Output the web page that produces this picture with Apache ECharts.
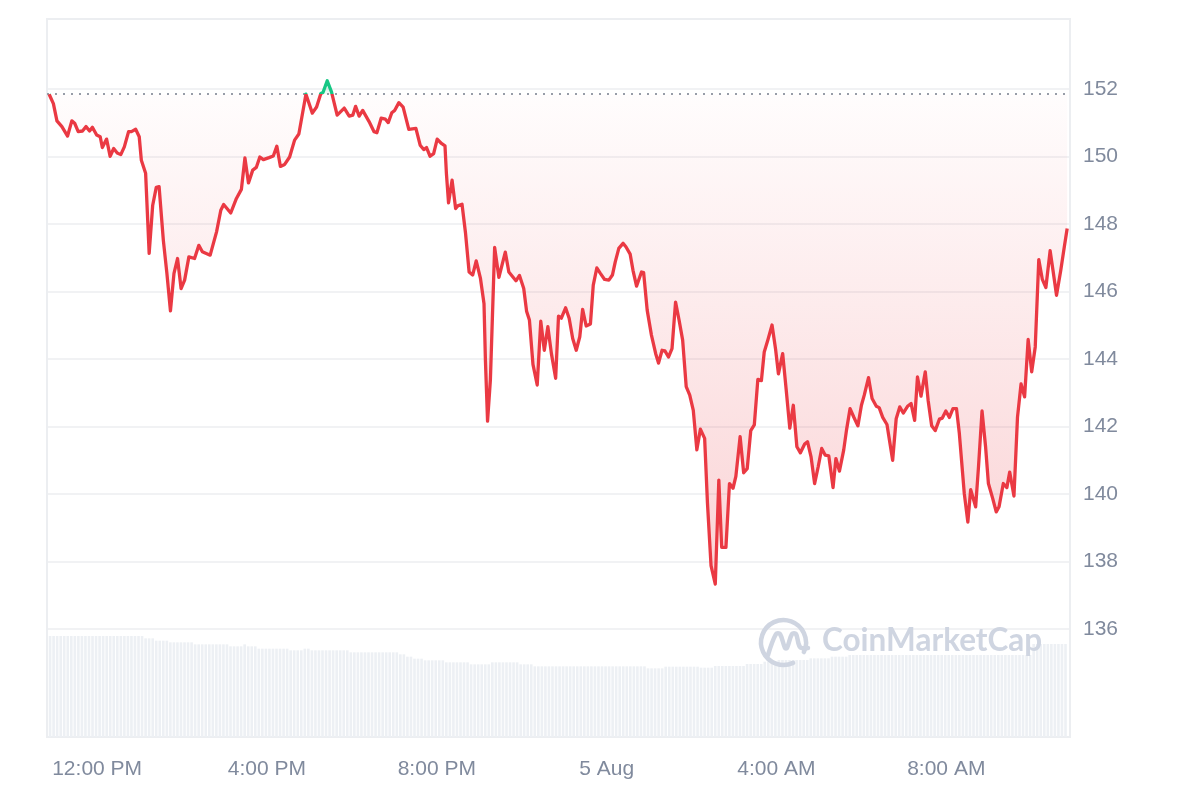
<!DOCTYPE html>
<html>
<head>
<meta charset="utf-8">
<script src="https://cdn.jsdelivr.net/npm/echarts@6/dist/echarts.min.js"></script>
<style>
html,body{margin:0;padding:0;background:#ffffff;}
#chart{width:1200px;height:800px;}
</style>
</head>
<body>
<div id="chart"></div>
<script>
// ---- Data ----
const startTime = new Date(2024, 7, 4, 10, 51).getTime();
const endTime = new Date(2024, 7, 5, 10, 53).getTime();
const openPrice = 151.85;

// minutes after startTime for each price sample
const priceMinutes = [
  3,9,14,21,29,35,39,44,50,55,
  60,64,70,75,78,84,89,94,99,104,
  109,115,119,125,130,133,139,144,149,154,
  158,164,169,174,179,184,189,194,200,208,
  214,219,230,239,245,249,259,267,274,279,
  284,290,295,300,305,313,319,324,329,335,
  342,349,355,365,374,380,386,389,395,401,
  409,419,426,431,435,440,445,454,461,465,
  471,477,481,486,490,496,502,510,520,526,
  531,535,540,545,550,556,561,563,566,571,
  576,579,585,590,595,600,605,611,616,618,
  621,625,631,637,646,651,661,666,672,676,
  680,685,691,696,701,706,711,717,721,725,
  731,736,741,746,751,755,760,766,770,775,
  780,786,792,797,801,806,812,816,822,826,
  831,838,841,846,852,858,862,867,871,876,
  881,886,891,896,901,906,911,916,921,927,
  931,936,942,947,951,957,962,967,971,977,
  982,987,992,997,1002,1007,1011,1016,1022,1027,
  1031,1037,1042,1047,1052,1057,1062,1068,1072,1077,
  1082,1087,1092,1097,1102,1108,1112,1117,1123,1127,
  1132,1137,1143,1148,1152,1158,1163,1169,1173,1178,
  1184,1192,1197,1202,1207,1213,1218,1223,1227,1232,
  1238,1242,1247,1252,1258,1262,1267,1272,1277,1282,
  1286,1293,1298,1302,1309,1313,1318,1323,1327,1333,
  1338,1342,1348,1353,1357,1363,1368,1373,1378,1383,
  1388,1393,1398,1403,1408,1414,1418,1423,1429,1434,
  1438
];

const prices = [
  151.85,151.57,151.06,150.89,150.61,151.06,150.99,150.74,150.76,150.89,
  150.76,150.87,150.64,150.59,150.27,150.52,150.01,150.24,150.11,150.06,
  150.29,150.74,150.74,150.81,150.59,149.89,149.51,147.13,148.56,149.09,
  149.11,147.52,146.54,145.43,146.54,146.98,146.09,146.34,147.03,146.98,
  147.37,147.18,147.08,147.77,148.41,148.58,148.33,148.76,149.03,149.96,
  149.22,149.60,149.68,149.99,149.91,149.97,150.02,150.31,149.71,149.77,
  149.99,150.49,150.67,151.85,151.29,151.47,151.87,151.90,152.25,151.92,
  151.23,151.44,151.20,151.23,151.49,151.20,151.37,151.04,150.74,150.71,
  151.14,151.11,151.01,151.30,151.37,151.60,151.47,150.81,150.84,150.34,
  150.21,150.27,150.01,150.09,150.52,150.39,150.32,149.50,148.63,149.30,
  148.46,148.54,148.59,147.72,146.58,146.49,146.91,146.39,145.64,143.96,
  142.16,143.38,147.31,146.42,147.17,146.58,146.32,146.48,146.09,145.42,
  145.16,143.84,143.23,145.12,144.26,144.96,144.16,143.43,145.27,145.21,
  145.52,145.21,144.61,144.26,144.66,145.47,144.98,145.04,146.19,146.70,
  146.54,146.36,146.34,146.49,146.88,147.28,147.43,147.33,147.11,146.63,
  146.16,146.58,146.56,145.45,144.71,144.16,143.88,144.26,144.24,144.06,
  144.31,145.69,145.15,144.56,143.18,142.93,142.48,141.31,141.92,141.65,
  139.72,137.88,137.33,140.41,138.42,138.42,140.31,140.17,140.52,141.70,
  140.63,140.75,141.88,142.05,143.40,143.36,144.21,144.56,145.01,144.29,
  143.56,144.16,143.08,141.95,142.63,141.40,141.22,141.48,141.55,141.10,
  140.31,140.80,141.35,141.15,141.13,140.19,141.05,140.68,141.30,141.90,
  142.53,142.29,142.02,142.63,142.93,143.45,142.83,142.60,142.56,142.27,
  142.06,141.00,142.23,142.58,142.40,142.60,142.68,142.18,143.47,142.90,
  143.62,142.78,142.02,141.88,142.22,142.25,142.46,142.27,142.53,142.53,
  141.80,140.01,139.17,140.13,139.62,140.80,142.46,141.40,140.31,139.87,
  139.47,139.62,140.31,140.19,140.65,139.94,142.28,143.26,142.88,144.58,
  143.62,144.36,146.95,146.36,146.12,147.21,146.63,145.89,146.63,147.33,
  147.87
];

// 24h volume (billions USD), one bar per 5-minute slot
const volumeStepMinutes = 5;
const volumes = [
  3.03,3.03,3.03,3.03,3.03,3.03,3.03,3.03,3.03,3.03,3.03,3.03,3.03,3.03,3.03,3.03,3.03,3.03,3.03,3.03,3.03,3.03,3.03,3.03,3.03,3.03,3.03,
  2.96,2.96,2.96,
  2.89,2.89,2.89,2.89,
  2.84,2.84,2.84,2.84,2.84,2.84,2.84,
  2.78,2.78,2.78,2.78,2.78,2.78,2.78,2.78,2.78,2.78,
  2.72,2.72,2.72,2.72,
  2.78,
  2.72,2.72,2.72,
  2.65,2.65,2.65,2.65,2.65,2.65,2.65,2.65,2.65,
  2.60,2.60,2.60,2.60,
  2.65,2.65,
  2.60,2.60,2.60,2.60,2.60,2.60,2.60,2.60,2.60,2.60,2.60,
  2.54,2.54,2.54,2.54,2.54,2.54,2.54,2.54,2.54,2.54,2.54,2.54,2.54,2.54,
  2.48,2.48,
  2.41,2.41,
  2.35,2.35,2.35,
  2.30,2.30,2.30,2.30,2.30,2.30,
  2.24,2.24,2.24,2.24,2.24,2.24,2.24,
  2.18,2.18,2.18,2.18,2.18,2.18,
  2.24,2.24,2.24,2.24,2.24,2.24,2.24,2.24,
  2.18,2.18,2.18,2.18,
  2.12,2.12,2.12,2.12,2.12,2.12,2.12,2.12,2.12,2.12,2.12,2.12,2.12,2.12,2.12,2.12,
  2.12,2.12,2.12,2.12,2.12,2.12,2.12,2.12,2.12,2.12,2.12,2.12,2.12,2.12,2.12,2.12,
  2.06,2.06,2.06,2.06,2.06,
  2.11,2.11,2.11,2.11,2.11,2.11,2.11,2.11,2.11,2.11,
  2.08,2.08,2.08,2.08,
  2.13,2.13,2.13,2.13,2.13,2.13,2.13,2.13,2.13,
  2.19,2.19,2.19,2.19,2.19,
  2.26,2.26,2.26,2.26,
  2.31,2.31,2.31,2.31,2.31,2.31,2.31,2.31,2.31,
  2.36,2.36,2.36,2.36,2.36,2.36,
  2.41,2.41,2.41,2.41,2.41,
  2.46,2.46,2.46,2.46,2.46,2.46,2.46,2.46,2.46,2.46,2.46,2.46,2.46,
  2.46,2.46,2.46,2.46,2.46,2.46,2.46,2.46,2.46,2.46,2.46,2.46,2.46,
  2.46,2.46,2.46,2.46,2.46,2.46,2.46,2.46,2.46,2.46,2.46,2.46,2.46,
  2.46,2.46,2.46,2.46,2.46,2.46,2.46,2.46,2.46,2.46,2.46,2.46,2.46,
  2.79,2.79,2.79,2.79,2.79,2.79,2.79,2.79,2.79,2.79
];

const xTickTimes = [
  new Date(2024, 7, 4, 12, 0).getTime(),
  new Date(2024, 7, 4, 16, 0).getTime(),
  new Date(2024, 7, 4, 20, 0).getTime(),
  new Date(2024, 7, 5, 0, 0).getTime(),
  new Date(2024, 7, 5, 4, 0).getTime(),
  new Date(2024, 7, 5, 8, 0).getTime()
];
const xTickLabels = ['12:00 PM', '4:00 PM', '8:00 PM', '5 Aug', '4:00 AM', '8:00 AM'];
const yTickValues = [136, 138, 140, 142, 144, 146, 148, 150, 152];

// ---- Build ----
const priceData = priceMinutes.map((m, i) => [startTime + m * 60000, prices[i]]);
const volumeData = volumes.map((v, i) => [startTime + (2.5 + i * volumeStepMinutes) * 60000, v]);

const GREEN = '#16c784';
const RED = '#ea3943';
const LABEL = '#808a9d';
const GRIDC = '#eceef1';
const WM = '#cfd5e1';

const pMax = Math.max(...prices);
const pMin = Math.min(...prices);
const baseOff = (pMax - openPrice) / (pMax - pMin);

const chart = echarts.init(document.getElementById('chart'), null, {renderer: 'canvas'});

chart.setOption({
  animation: false,
  backgroundColor: '#ffffff',
  textStyle: {fontFamily: '"Liberation Sans", Arial, sans-serif'},
  grid: [
    {left: 47, right: 130, top: 21.7, bottom: 103.6, containLabel: false},
    {left: 47, right: 130, top: 19, bottom: 63, containLabel: false,
     show: true, borderColor: GRIDC, borderWidth: 2, backgroundColor: 'transparent'}
  ],
  xAxis: [
    {type: 'time', gridIndex: 0, min: startTime, max: endTime, show: false},
    {type: 'time', gridIndex: 1, min: startTime, max: endTime,
     minInterval: 4 * 3600000, maxInterval: 4 * 3600000,
     axisLine: {show: false}, axisTick: {show: false}, splitLine: {show: false},
     axisLabel: {
       color: LABEL, fontSize: 21, margin: 22, hideOverlap: false,
       fontFamily: '"Liberation Sans", Arial, sans-serif',
       formatter: function (val) {
         const idx = xTickTimes.indexOf(val);
         return idx >= 0 ? xTickLabels[idx] : '';
       }
     }
    }
  ],
  yAxis: [
    {type: 'value', gridIndex: 0, position: 'right', min: 134, max: 154, interval: 2,
     axisLine: {show: false}, axisTick: {show: false},
     axisLabel: {
       color: LABEL, fontSize: 21, margin: 13, showMinLabel: false, showMaxLabel: false,
       fontFamily: '"Liberation Sans", Arial, sans-serif',
       formatter: function (v) { return yTickValues.indexOf(v) >= 0 ? String(v) : ''; }
     },
     splitLine: {show: true, showMinLine: false, showMaxLine: false,
                 lineStyle: {color: GRIDC, width: 1.5}}
    },
    {type: 'value', gridIndex: 1, min: 0, max: 21.54, show: false, splitLine: {show: false}}
  ],
  visualMap: {
    show: false, type: 'piecewise', seriesIndex: 0, dimension: 1,
    pieces: [
      {gt: openPrice, lte: 200, color: GREEN},
      {gte: 100, lte: openPrice, color: RED}
    ]
  },
  series: [
    {
      name: 'Price', type: 'line', xAxisIndex: 0, yAxisIndex: 0,
      data: priceData, showSymbol: false, symbol: 'none', smooth: false,
      lineStyle: {width: 3.3, join: 'round'},
      z: 5,
      areaStyle: {
        origin: openPrice,
        opacity: 1,
        color: new echarts.graphic.LinearGradient(0, 0, 0, 1, [
          {offset: 0, color: 'rgba(22,199,132,0.28)'},
          {offset: baseOff, color: 'rgba(22,199,132,0.05)'},
          {offset: baseOff, color: 'rgba(234,57,67,0.01)'},
          {offset: 1, color: 'rgba(234,57,67,0.22)'}
        ])
      },
      markLine: {
        silent: true, symbol: 'none', label: {show: false},
        lineStyle: {color: '#979da8', type: [2, 6], width: 2},
        data: [{yAxis: openPrice}]
      }
    },
    {
      name: 'Volume', type: 'bar', xAxisIndex: 1, yAxisIndex: 1,
      data: volumeData, barWidth: 2.6, silent: true,
      itemStyle: {color: '#edf0f4'}, z: 1
    }
  ],
  graphic: [
    {type: 'arc', silent: true, z: 100,
     shape: {cx: 783.5, cy: 642.5, r: 22.5, startAngle: Math.PI * 0.36, endAngle: Math.PI * 2.14},
     style: {stroke: WM, lineWidth: 4.5, fill: null, lineCap: 'round'}},
    {type: 'polyline', silent: true, z: 100,
     shape: {points: [[768, 655], [776, 634], [780, 634], [785, 648], [787, 648], [792, 634], [796, 634], [800, 647], [808, 648]], smooth: 0.35},
     style: {stroke: WM, lineWidth: 4.5, fill: null, lineCap: 'round', lineJoin: 'round'}},
    {type: 'text', silent: true, z: 100, left: 822, top: 625,
     style: {text: 'CoinMarketCap', font: 'bold 31.5px Lato', fill: WM}}
  ]
});
</script>
</body>
</html>
